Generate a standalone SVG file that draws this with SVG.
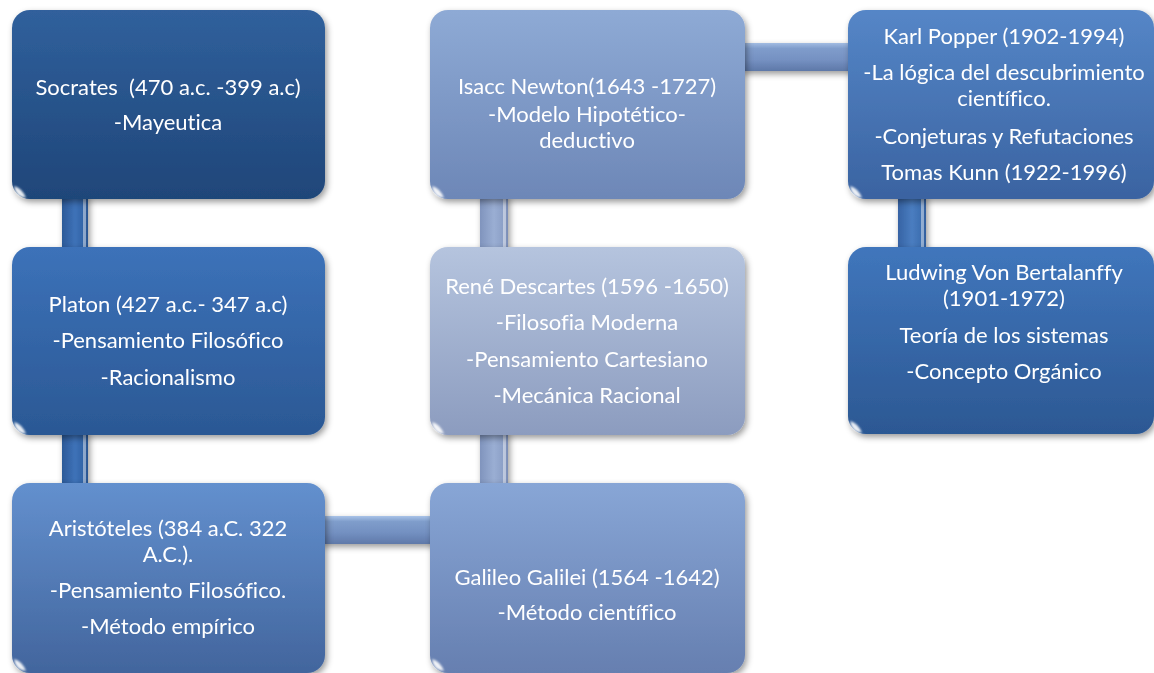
<svg xmlns="http://www.w3.org/2000/svg" width="1154" height="673" viewBox="0 0 1154 673">
  <defs>
    <style>
      .lbl { font-family: Lato, "Open Sans", "Liberation Sans", sans-serif; font-size: 22px; fill: #ffffff; text-anchor: middle; font-variant-ligatures: none; }
      .gloss-top { fill: none; stroke: #ffffff; stroke-opacity: 0.4; stroke-width: 4; stroke-linecap: round; filter: url(#soft); }
      .gloss-side { fill: none; stroke: #ffffff; stroke-opacity: 0.3; stroke-width: 3; stroke-linecap: round; filter: url(#soft); }
      .spot { fill: #ffffff; opacity: 0.9; filter: url(#soft); }
      .bar-hl { fill: #ffffff; opacity: 0.45; }
    </style>
    <filter id="shadow" x="-10%" y="-10%" width="125%" height="130%">
      <feDropShadow dx="2" dy="3" stdDeviation="3" flood-color="#000000" flood-opacity="0.4"/>
    </filter>
    <filter id="soft" x="-20%" y="-20%" width="140%" height="140%">
      <feGaussianBlur stdDeviation="1"/>
    </filter>

    <!-- box fills, light at the top fading down -->
    <linearGradient id="gSoc" x1="0" y1="0" x2="0" y2="1"><stop offset="0" stop-color="#30609C"/><stop offset="1" stop-color="#1F4679"/></linearGradient>
    <linearGradient id="gPla" x1="0" y1="0" x2="0" y2="1"><stop offset="0" stop-color="#3C72B9"/><stop offset="1" stop-color="#2B5894"/></linearGradient>
    <linearGradient id="gAri" x1="0" y1="0" x2="0" y2="1"><stop offset="0" stop-color="#6390CE"/><stop offset="1" stop-color="#42659D"/></linearGradient>
    <linearGradient id="gNew" x1="0" y1="0" x2="0" y2="1"><stop offset="0" stop-color="#8EAAD5"/><stop offset="1" stop-color="#6D87B7"/></linearGradient>
    <linearGradient id="gDes" x1="0" y1="0" x2="0" y2="1"><stop offset="0" stop-color="#B5C4DE"/><stop offset="1" stop-color="#8C9CBF"/></linearGradient>
    <linearGradient id="gGal" x1="0" y1="0" x2="0" y2="1"><stop offset="0" stop-color="#88A6D6"/><stop offset="1" stop-color="#667FB0"/></linearGradient>
    <linearGradient id="gPop" x1="0" y1="0" x2="0" y2="1"><stop offset="0" stop-color="#5586C7"/><stop offset="1" stop-color="#3A63A1"/></linearGradient>
    <linearGradient id="gBer" x1="0" y1="0" x2="0" y2="1"><stop offset="0" stop-color="#4076BC"/><stop offset="1" stop-color="#2C5893"/></linearGradient>

    <!-- connector fills, shaded across the bar -->
    <linearGradient id="vBar1" x1="0" y1="0" x2="1" y2="0"><stop offset="0" stop-color="#2C5A98"/><stop offset="0.5" stop-color="#3E72B8"/><stop offset="0.8" stop-color="#3365A8"/><stop offset="1" stop-color="#2A5590"/></linearGradient>
    <linearGradient id="vBar2" x1="0" y1="0" x2="1" y2="0"><stop offset="0" stop-color="#8094BD"/><stop offset="0.5" stop-color="#9AAED3"/><stop offset="0.8" stop-color="#8DA1C8"/><stop offset="1" stop-color="#7A8DB6"/></linearGradient>
    <linearGradient id="vBar3" x1="0" y1="0" x2="1" y2="0"><stop offset="0" stop-color="#3663A4"/><stop offset="0.5" stop-color="#4A7DC0"/><stop offset="0.8" stop-color="#3E70B2"/><stop offset="1" stop-color="#33609E"/></linearGradient>
    <linearGradient id="hBar1" x1="0" y1="0" x2="0" y2="1"><stop offset="0" stop-color="#A9C3E8"/><stop offset="0.2" stop-color="#7F9DCB"/><stop offset="0.6" stop-color="#7390C1"/><stop offset="1" stop-color="#5F79A9"/></linearGradient>
    <linearGradient id="hBar2" x1="0" y1="0" x2="0" y2="1"><stop offset="0" stop-color="#A2BCE2"/><stop offset="0.2" stop-color="#7F9CCB"/><stop offset="0.6" stop-color="#7591C2"/><stop offset="1" stop-color="#5E78A8"/></linearGradient>
  </defs>

  <rect width="1154" height="673" fill="#ffffff"/>

  <!-- connectors -->
  <g id="connectors" filter="url(#shadow)">
    <rect x="62" y="195" width="26" height="56" fill="url(#vBar1)"/>
    <rect x="83" y="195" width="3" height="56" class="bar-hl"/>
    <rect x="62" y="431" width="26" height="56" fill="url(#vBar1)"/>
    <rect x="83" y="431" width="3" height="56" class="bar-hl"/>
    <rect x="321" y="516" width="113" height="28" fill="url(#hBar1)"/>
    <rect x="480" y="195" width="28" height="56" fill="url(#vBar2)"/>
    <rect x="503" y="195" width="3" height="56" class="bar-hl"/>
    <rect x="480" y="431" width="28" height="56" fill="url(#vBar2)"/>
    <rect x="503" y="431" width="3" height="56" class="bar-hl"/>
    <rect x="741" y="43" width="111" height="28" fill="url(#hBar2)"/>
    <rect x="898" y="195" width="28" height="56" fill="url(#vBar3)"/>
    <rect x="921" y="195" width="3" height="56" class="bar-hl"/>
  </g>

  <!-- column 1 -->
  <g id="socrates">
    <rect x="12" y="10" width="313" height="189" rx="18" fill="url(#gSoc)" filter="url(#shadow)"/>
    <path d="M30 18 H307" class="gloss-top"/>
    <path d="M321 30 V180" class="gloss-side"/>
    <path d="M14 186 Q15 197 26 198 Q22 188 14 186 Z" class="spot"/>
    <text class="lbl" x="168" y="95" xml:space="preserve">Socrates  (470 a.c. -399 a.c)</text>
    <text class="lbl" x="168" y="130">-Mayeutica</text>
  </g>

  <g id="platon">
    <rect x="12" y="247" width="313" height="188" rx="18" fill="url(#gPla)" filter="url(#shadow)"/>
    <path d="M30 255 H307" class="gloss-top"/>
    <path d="M321 267 V416" class="gloss-side"/>
    <path d="M14 422 Q15 433 26 434 Q22 424 14 422 Z" class="spot"/>
    <text class="lbl" x="168" y="312">Platon (427 a.c.- 347 a.c)</text>
    <text class="lbl" x="168" y="348">-Pensamiento Filosófico</text>
    <text class="lbl" x="168" y="385">-Racionalismo</text>
  </g>

  <g id="aristoteles">
    <rect x="12" y="483" width="313" height="190" rx="18" fill="url(#gAri)" filter="url(#shadow)"/>
    <path d="M30 491 H307" class="gloss-top"/>
    <path d="M321 503 V655" class="gloss-side"/>
    <path d="M14 659 Q15 670 26 671 Q22 661 14 659 Z" class="spot"/>
    <text class="lbl" x="168" y="536">Aristóteles (384 a.C. 322</text>
    <text class="lbl" x="168" y="562">A.C.).</text>
    <text class="lbl" x="168" y="598">-Pensamiento Filosófico.</text>
    <text class="lbl" x="168" y="634">-Método empírico</text>
  </g>

  <!-- column 2 -->
  <g id="newton">
    <rect x="430" y="10" width="315" height="189" rx="18" fill="url(#gNew)" filter="url(#shadow)"/>
    <path d="M448 18 H727" class="gloss-top"/>
    <path d="M741 30 V180" class="gloss-side"/>
    <path d="M432 186 Q433 197 444 198 Q440 188 432 186 Z" class="spot"/>
    <text class="lbl" x="587" y="94">Isacc Newton(1643 -1727)</text>
    <text class="lbl" x="587" y="122">-Modelo Hipotético-</text>
    <text class="lbl" x="587" y="148">deductivo</text>
  </g>

  <g id="descartes">
    <rect x="430" y="247" width="315" height="188" rx="18" fill="url(#gDes)" filter="url(#shadow)"/>
    <path d="M448 255 H727" class="gloss-top"/>
    <path d="M741 267 V416" class="gloss-side"/>
    <path d="M432 422 Q433 433 444 434 Q440 424 432 422 Z" class="spot"/>
    <text class="lbl" x="587" y="294">René Descartes (1596 -1650)</text>
    <text class="lbl" x="587" y="330">-Filosofia Moderna</text>
    <text class="lbl" x="587" y="367">-Pensamiento Cartesiano</text>
    <text class="lbl" x="587" y="403">-Mecánica Racional</text>
  </g>

  <g id="galileo">
    <rect x="430" y="483" width="315" height="190" rx="18" fill="url(#gGal)" filter="url(#shadow)"/>
    <path d="M448 491 H727" class="gloss-top"/>
    <path d="M741 503 V655" class="gloss-side"/>
    <path d="M432 659 Q433 670 444 671 Q440 661 432 659 Z" class="spot"/>
    <text class="lbl" x="587" y="585">Galileo Galilei (1564 -1642)</text>
    <text class="lbl" x="587" y="620">-Método científico</text>
  </g>

  <!-- column 3 -->
  <g id="popper">
    <rect x="848" y="10" width="306" height="189" rx="18" fill="url(#gPop)" filter="url(#shadow)"/>
    <path d="M866 18 H1136" class="gloss-top"/>
    <path d="M1150 30 V180" class="gloss-side"/>
    <path d="M850 186 Q851 197 862 198 Q858 188 850 186 Z" class="spot"/>
    <text class="lbl" x="1004" y="44">Karl Popper (1902-1994)</text>
    <text class="lbl" x="1004" y="80">-La lógica del descubrimiento</text>
    <text class="lbl" x="1004" y="106">científico.</text>
    <text class="lbl" x="1004" y="144">-Conjeturas y Refutaciones</text>
    <text class="lbl" x="1004" y="180">Tomas Kunn (1922-1996)</text>
  </g>

  <g id="bertalanffy">
    <rect x="848" y="247" width="306" height="187" rx="18" fill="url(#gBer)" filter="url(#shadow)"/>
    <path d="M866 255 H1136" class="gloss-top"/>
    <path d="M1150 267 V415" class="gloss-side"/>
    <path d="M850 421 Q851 432 862 433 Q858 423 850 421 Z" class="spot"/>
    <text class="lbl" x="1004" y="280">Ludwing Von Bertalanffy</text>
    <text class="lbl" x="1004" y="306">(1901-1972)</text>
    <text class="lbl" x="1004" y="343">Teoría de los sistemas</text>
    <text class="lbl" x="1004" y="379">-Concepto Orgánico</text>
  </g>
</svg>
